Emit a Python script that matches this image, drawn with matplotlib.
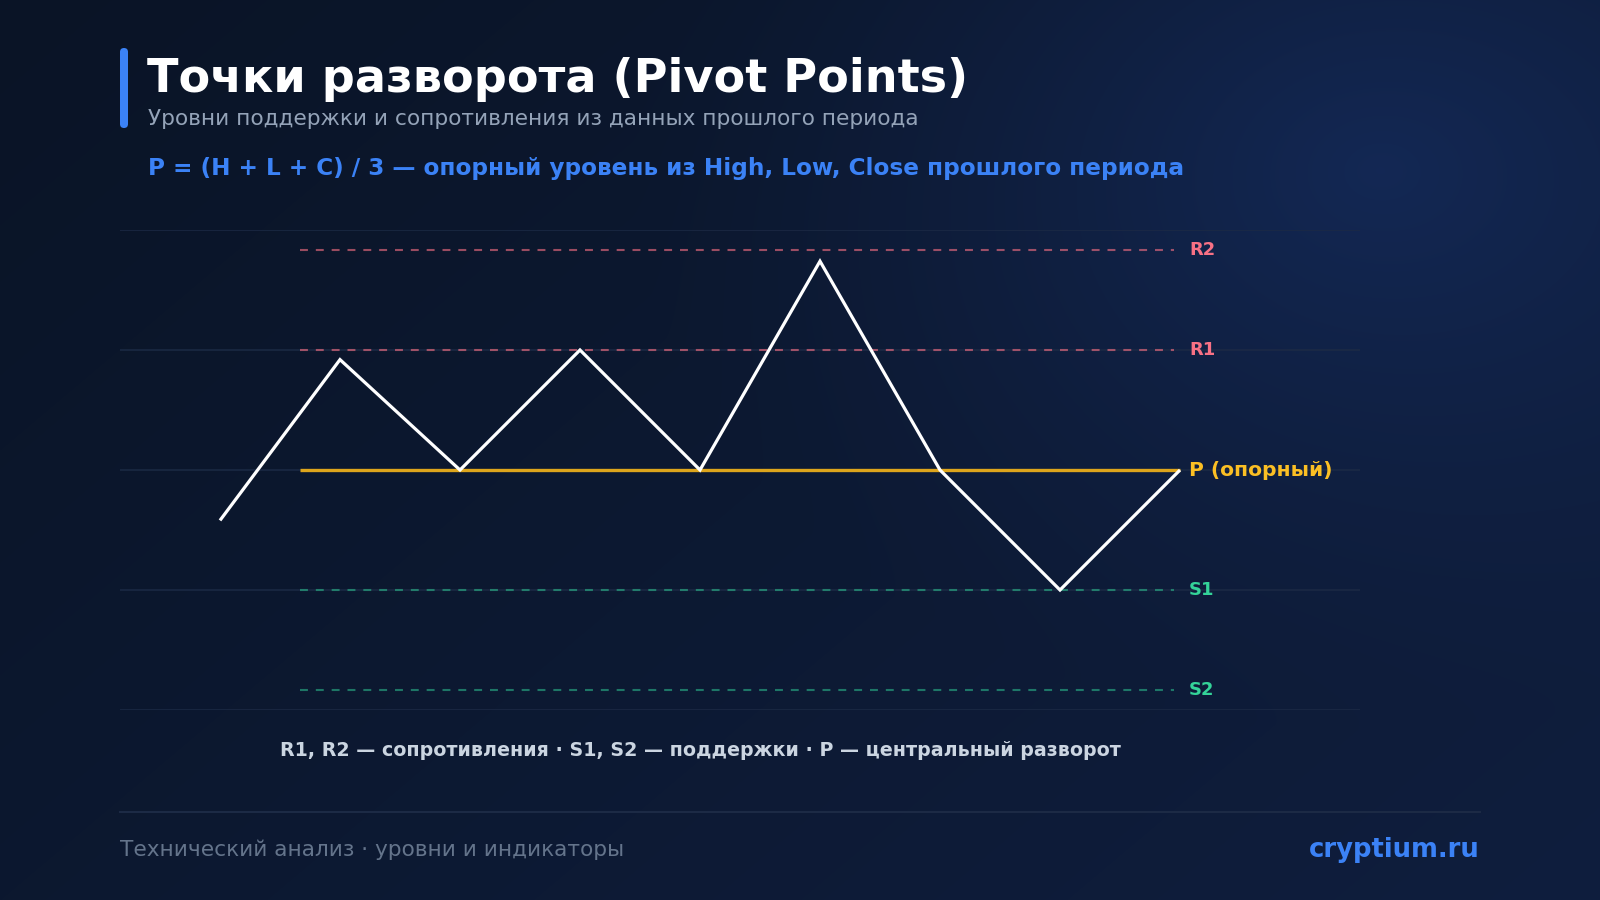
import numpy as np
import matplotlib
matplotlib.use("Agg")
import matplotlib.pyplot as plt
from matplotlib.patches import FancyBboxPatch
from matplotlib.lines import Line2D

# ---------------- data ----------------
price_x = [0, 1, 2, 3, 4, 5, 6, 7, 8]
price_y = [95.8, 109.2, 100, 110, 100, 117.4, 100, 90, 100]

level_names = ["R2", "R1", "P (опорный)", "S1", "S2"]
level_values = [118.3, 110, 100, 90, 81.7]
level_kinds = ["res", "res", "pivot", "sup", "sup"]

grid_values = [80, 90, 100, 110, 120]

title = "Точки разворота (Pivot Points)"
subtitle = "Уровни поддержки и сопротивления из данных прошлого периода"
formula = "P = (H + L + C) / 3 — опорный уровень из High, Low, Close прошлого периода"
caption = "R1, R2 — сопротивления · S1, S2 — поддержки · P — центральный разворот"
footer_left = "Технический анализ · уровни и индикаторы"
footer_right = "cryptium.ru"

# ---------------- style ----------------
W, H = 1600, 900
plt.rcParams['font.family'] = ['DejaVu Sans']
fig = plt.figure(figsize=(W / 100, H / 100), dpi=100)

# background gradient
bg = fig.add_axes([0, 0, 1, 1], zorder=-10)
yy, xx = np.mgrid[0:H, 0:W]
c0 = np.array([0x0a, 0x14, 0x26]) / 255.0
c1 = np.array([0x0f, 0x1e, 0x3e]) / 255.0
t = np.clip((xx / W * 0.6 + yy / H * 0.4), 0, 1)[..., None]
img = c0 * (1 - t) + c1 * t
glow = np.array([0x16, 0x2e, 0x62]) / 255.0
d = np.sqrt(((xx - 1380) / 750.0) ** 2 + ((yy - 170) / 560.0) ** 2)
g = np.clip(1 - d, 0, 1)[..., None] ** 1.4 * 0.7
img = img * (1 - g) + glow * g
bg.imshow(img, extent=[0, W, H, 0], aspect='auto', interpolation='bilinear')
bg.set_xlim(0, W)
bg.set_ylim(H, 0)
bg.axis('off')

def px(x, y):
    return x / W, 1 - y / H

# accent bar
bar = FancyBboxPatch((120, 48), 8, 80, boxstyle="round,pad=0,rounding_size=4",
                     transform=bg.transData, facecolor="#3b82f6", edgecolor="none")
bg.add_patch(bar)

fig.text(*px(147, 92), title, color="#ffffff", fontsize=33.2, fontweight='bold',
         va='baseline', ha='left')
fig.text(*px(148, 125), subtitle, color="#94a3b8", fontsize=15.6,
         va='baseline', ha='left')
fig.text(*px(148, 175), formula, color="#3b82f6", fontsize=16.7, fontweight='bold',
         va='baseline', ha='left')

# ---------------- chart ----------------
ax = fig.add_axes([120 / W, 1 - 710 / H, 1240 / W, 480 / H])
ax.set_facecolor('none')
ax.set_xlim(-100 / 120, 1140 / 120)
ax.set_ylim(80, 120)
for s in ax.spines.values():
    s.set_visible(False)
ax.set_xticks([])
ax.set_yticks(grid_values)
ax.tick_params(left=False, labelleft=False)
ax.grid(axis='y', color='#1c2a45', linewidth=1.2, alpha=0.9)

colors = {"res": ("#fb7185", "#f87185"), "pivot": ("#dda51c", "#fbbf24"),
          "sup": ("#2bb58a", "#34d399")}
label_sizes = {"res": 13, "pivot": 14.6, "sup": 13}
lvl_x0, lvl_x1 = 80 / 120, 8
for name, val, kind in zip(level_names, level_values, level_kinds):
    lc, tc = colors[kind]
    if kind == "pivot":
        ax.plot([lvl_x0, lvl_x1], [val, val], color=lc, linewidth=2.4, zorder=3,
                solid_capstyle='butt')
    else:
        ax.plot([lvl_x0, lvl_x1 - 0.05], [val, val], color=lc, linewidth=1.5, alpha=0.6,
                dashes=(3.8, 3.8), zorder=2)
    ax.annotate(name, xy=(lvl_x1, val), xytext=(6.5, 0), textcoords='offset points',
                color=tc, fontsize=label_sizes[kind], fontweight='bold', va='center',
                ha='left', annotation_clip=False)

ax.plot(price_x, price_y, color='#ffffff', linewidth=2.3, zorder=4,
        solid_joinstyle='miter', solid_capstyle='butt')

# caption
fig.text(*px(700, 750), caption, color="#cbd5e1", fontsize=13.7, fontweight='bold',
         va='center', ha='center')

# footer
bg.add_line(Line2D([120, 1480], [812, 812], color='#1c2a45', linewidth=1.5))
fig.text(*px(120, 850), footer_left, color="#64748b", fontsize=15.6,
         va='center', ha='left')
fig.text(*px(1480, 850), footer_right, color="#3b82f6", fontsize=18.6, fontweight='bold',
         va='center', ha='right')

fig.savefig("out.png", dpi=100)
